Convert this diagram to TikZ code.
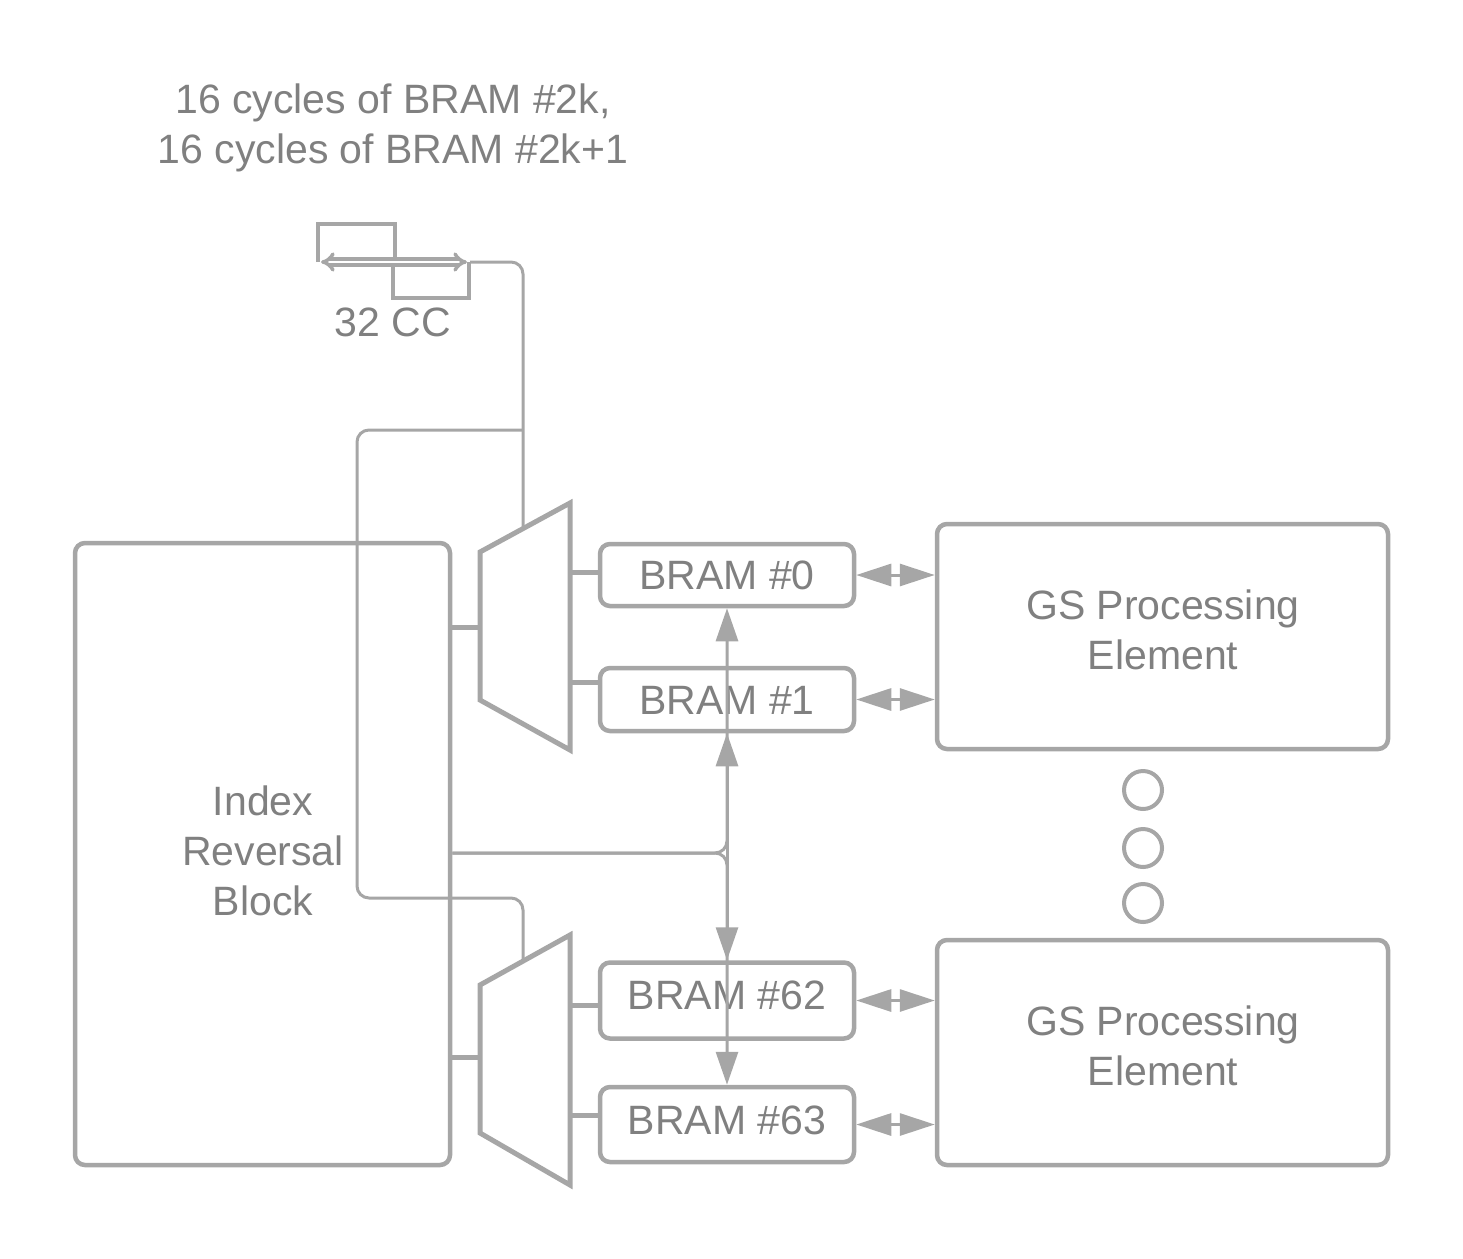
\documentclass[tikz,border=0pt]{standalone}
\usepackage{fontspec}
\setmainfont{Liberation Sans}
\usetikzlibrary{arrows.meta}
\definecolor{lg}{RGB}{166,166,166}
\definecolor{tg}{RGB}{128,128,128}
\begin{document}
\begin{tikzpicture}[x=1pt,y=-1pt,
  lbl/.style={text=tg, font=\fontsize{41}{50}\selectfont, align=center, inner sep=0pt},
  box/.style={draw=lg, line width=4.5pt, rounded corners=10pt, fill=white, text=tg, font=\fontsize{41}{50}\selectfont, align=center},
  conn/.style={draw=lg, line width=3pt},
  wire/.style={draw=lg, line width=5pt},
  tip/.style={-{Triangle[length=33pt,width=22pt]}},
  dtip/.style={{Triangle[length=35pt,width=22pt]}-{Triangle[length=35pt,width=22pt]}},
  dot/.style={draw=lg, circle, line width=4pt, minimum size=38pt, inner sep=0pt},
  muxs/.style={draw=lg, line width=5pt, line join=miter, fill=white},
]
\useasboundingbox (0,0) rectangle (1463,1258);

% texts on top
\node[lbl] (t1) at (393,128) {16 cycles of BRAM \#2k,\\16 cycles of BRAM \#2k+1};
\node[lbl] (cc) at (393,322) {32 CC};

% clock waveform
\draw[lg, line width=4pt] (318,262) -- (318,224) -- (395,224) -- (395,262);
\draw[lg, line width=4pt] (393,262) -- (393,298) -- (469,298) -- (469,262);
\draw[lg, line width=3.5pt, double=white, double distance=2.5pt, {Implies}-{Implies}] (321,262) -- (467,262);
\coordinate (clk) at (470,262);

% index reversal block
\node[box, minimum width=375pt, minimum height=622pt] (ir) at (262.5,854) {};
\node[lbl] (irt) at (263,851) {Index\\Reversal\\Block};

% muxes
\coordinate (m0top) at (523,527);
\coordinate (m1top) at (523,960);
\coordinate (m0in) at (480,627);
\coordinate (m1in) at (480,1057);
\coordinate (m0o0) at (570,572);
\coordinate (m0o1) at (570,682);
\coordinate (m1o0) at (570,1005);
\coordinate (m1o1) at (570,1115);

% control lines
\coordinate (jn) at (523,430);
\draw[conn, rounded corners=12pt] (clk) -| (m0top);
\draw[conn, rounded corners=12pt] (jn) -| (357,898) -| (m1top);

\draw[muxs] (480,552) -- (570,503) -- (570,750) -- (480,700) -- cycle;
\draw[muxs] (480,985) -- (570,935) -- (570,1185) -- (480,1133) -- cycle;

% BRAMs
\node[box, minimum width=254pt, minimum height=62pt] (b0) at (727,575) {};
\node[box, minimum width=254pt, minimum height=63pt] (b1) at (727,699.5) {};
\node[box, minimum width=254pt, minimum height=76pt] (b62) at (727,1000.5) {};
\node[box, minimum width=254pt, minimum height=75pt] (b63) at (727,1124.5) {};
\node[lbl] (b0t) at (727,575) {BRAM \#0};
\node[lbl] (b1t) at (727,700) {BRAM \#1};
\node[lbl] (b62t) at (727,995) {BRAM \#62};
\node[lbl] (b63t) at (727,1120) {BRAM \#63};

% GS processing elements
\node[box, minimum width=451pt, minimum height=225pt] (g0) at (1162.5,636.5) {};
\node[box, minimum width=451pt, minimum height=225pt] (g1) at (1162.5,1052.5) {};
\node[lbl] (g0t) at (1163,630) {GS Processing\\Element};
\node[lbl] (g1t) at (1163,1046) {GS Processing\\Element};

% dots
\node[dot] (d1) at (1143,790) {};
\node[dot] (d2) at (1143,848) {};
\node[dot] (d3) at (1143,903) {};

% wires
\draw[wire] (ir.east |- m0in) -- (m0in);
\draw[wire] (ir.east |- m1in) -- (m1in);
\draw[wire] (m0o0) -- (b0.west |- m0o0);
\draw[wire] (m0o1) -- (b1.west |- m0o1);
\draw[wire] (m1o0) -- (b62.west |- m1o0);
\draw[wire] (m1o1) -- (b63.west |- m1o1);

% BRAM <-> GS
\draw[conn, dtip] (b0.east) -- (g0.west |- b0.east);
\draw[conn, dtip] (b1.east) -- (g0.west |- b1.east);
\draw[conn, dtip] (b62.east) -- (g1.west |- b62.east);
\draw[conn, dtip] (b63.east) -- (g1.west |- b63.east);

% index distribution
\coordinate (split) at (727,853);
\draw[conn, tip, rounded corners=12pt] (ir.east |- split) -| (b0.south);
\draw[conn, tip] (split) -- (b1.south);
\draw[conn, tip, rounded corners=12pt] (ir.east |- split) -| (b63.north);
\draw[conn, tip] (split) -- (b62.north);
\end{tikzpicture}
\end{document}
